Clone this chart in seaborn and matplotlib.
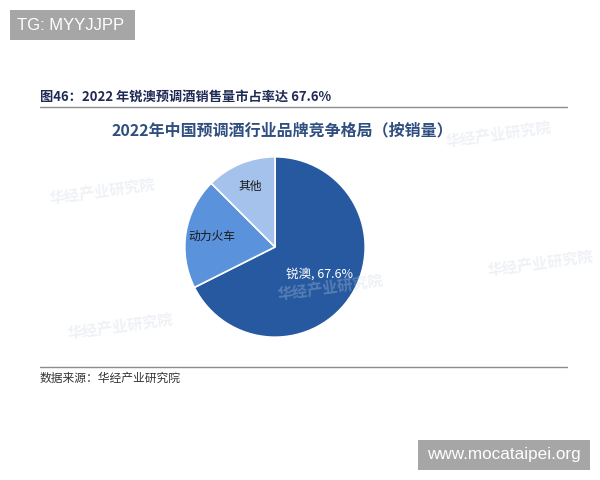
import matplotlib.pyplot as plt
import seaborn as sns
import numpy as np
from matplotlib.patches import Rectangle

# data
brands = ['锐澳', '动力火车', '其他']
shares = [67.6, 19.9, 12.5]
label_texts = ['锐澳, 67.6%', '动力火车', '其他']
label_colors = ['white', '#1a1a1a', '#1a1a1a']
label_radius = [0.58, 0.71, 0.73]

fig_title = '图46：2022 年锐澳预调酒销售量市占率达 67.6%'
chart_title = '2022年中国预调酒行业品牌竞争格局（按销量）'
source_text = '数据来源：华经产业研究院'

sns.set_theme(style="white")
plt.rcParams['font.family'] = ['Noto Sans CJK SC', 'DejaVu Sans']

palette = ['#2659A0', '#5A92DC', '#A4C2EC']

fig = plt.figure(figsize=(6, 4.8), dpi=100)
fig.patch.set_facecolor('white')

# faint watermarks
for (wx, wy) in [(0.17, 0.60), (0.83, 0.72), (0.90, 0.45), (0.55, 0.40), (0.20, 0.32)]:
    fig.text(wx, wy, '华经产业研究院', fontsize=11, color='#c9d3e0', weight='bold',
             ha='center', va='center', rotation=8, alpha=0.3)

# header / footer text and rules
fig.text(40 / 600, 1 - 97 / 480, fig_title, fontsize=9.5, weight='bold', color='#1f2a55',
         ha='left', va='center')
fig.add_artist(plt.Line2D([40 / 600, 567 / 600], [1 - 107 / 480] * 2, color='#8c8c8c', lw=1.0))
fig.text(282 / 600, 1 - 130 / 480, chart_title, fontsize=11.5, weight='bold', color='#2f4f80',
         ha='center', va='center')
fig.add_artist(plt.Line2D([40 / 600, 567 / 600], [1 - 367 / 480] * 2, color='#8c8c8c', lw=1.0))
fig.text(40 / 600, 1 - 378 / 480, source_text, fontsize=8.5, color='#333333',
         ha='left', va='center')

# corner badges
fig.add_artist(Rectangle((10 / 600, 1 - 40 / 480), 125 / 600, 30 / 480, transform=fig.transFigure,
                         facecolor='#a6a6a6', edgecolor='none'))
fig.text(17 / 600, 1 - 25 / 480, 'TG: MYYJJPP', fontsize=12, color='white', ha='left', va='center',
         family=['Liberation Sans'])
fig.add_artist(Rectangle((418 / 600, 1 - 470 / 480), 172 / 600, 30 / 480, transform=fig.transFigure,
                         facecolor='#a6a6a6', edgecolor='none'))
fig.text(504 / 600, 1 - 455 / 480, 'www.mocataipei.org', fontsize=12.3, color='white', ha='center',
         va='center', family=['Liberation Sans'])

# pie
ax = fig.add_axes([183 / 600, 1 - 339 / 480, 184 / 600, 184 / 480])
wedges, _ = ax.pie(shares, colors=palette, startangle=90, counterclock=False, radius=1,
                   wedgeprops=dict(edgecolor='white', linewidth=1.2))
for w, txt, col, r in zip(wedges, label_texts, label_colors, label_radius):
    mid = np.deg2rad((w.theta1 + w.theta2) / 2)
    ax.text(r * np.cos(mid), r * np.sin(mid), txt, ha='center', va='center',
            fontsize=9 if col == 'white' else 8.5, color=col, weight='medium')
ax.set_xlim(-1.02, 1.02)
ax.set_ylim(-1.02, 1.02)
ax.set_aspect('equal')
ax.axis('off')

fig.savefig('out.png', dpi=100, facecolor='white')
